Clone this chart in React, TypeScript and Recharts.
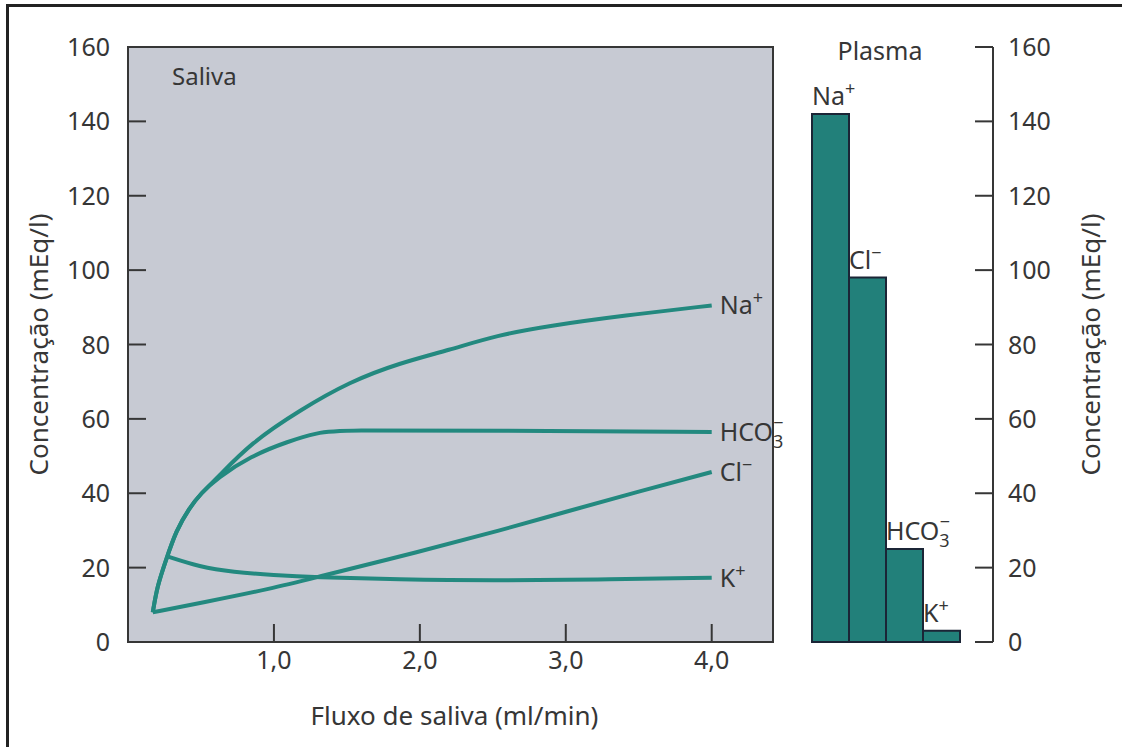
import React from 'react'
import { LineChart, Line, XAxis, YAxis, ReferenceArea, BarChart, Bar } from 'recharts'

const FONT = '"Noto Sans", sans-serif'
const INK = '#363636'
const TEAL = '#23897f'
const BAR_FILL = '#22807a'
const GRAY = '#c7cad3'

// saliva, flow (ml/min) against concentration (mEq/l)
const naFlow = [0.17, 0.2, 0.26, 0.33, 0.42, 0.5, 0.61, 0.84, 1.18, 1.52, 1.86, 2.2, 2.53, 2.88, 3.4, 4.0]
const naConc = [8, 15, 22, 30, 36, 40, 44, 53.5, 62.4, 70, 75, 78.5, 82.5, 85, 87.8, 90.5]
const hco3Flow = [0.17, 0.2, 0.26, 0.33, 0.42, 0.5, 0.61, 0.84, 1.1, 1.3, 1.45, 2.5, 4.0]
const hco3Conc = [8, 15, 22, 30, 36, 40, 44, 50, 54, 56.3, 57, 56.8, 56.5]
const clFlow = [0.17, 0.5, 1.0, 1.27, 2.0, 2.55, 3.0, 3.5, 4.0]
const clConc = [8, 10.5, 14.5, 17.2, 24.3, 30, 35, 40.5, 45.7]
const kFlow = [0.27, 0.49, 0.72, 1.0, 1.27, 1.85, 2.5, 3.2, 4.0]
const kConc = [23, 20.2, 18.8, 18, 17.4, 16.8, 16.5, 16.8, 17.3]

const concTicks = [0, 20, 40, 60, 80, 100, 120, 140, 160]
const flowTicks = [1, 2, 3, 4]

// plasma
const plasmaIons = ['Na', 'Cl', 'HCO3', 'K']
const plasmaConc = [142, 98, 25, 3]

const zip = (xs: number[], ys: number[]) => xs.map((x, i) => ({ flow: x, conc: ys[i] }))
const naData = zip(naFlow, naConc)
const hco3Data = zip(hco3Flow, hco3Conc)
const clData = zip(clFlow, clConc)
const kData = zip(kFlow, kConc)
const plasmaData = plasmaIons.map((ion, i) => ({ ion, conc: plasmaConc[i] }))

const textProps = { fill: INK, fontFamily: FONT, fontSize: 25 }

function IonText({ x, y, ion }: { x: number; y: number; ion: string }) {
   if (ion === 'HCO3') {
      return (
         <text x={x} y={y} {...textProps}>
            HCO
            <tspan fontSize={18} dy={7}>3</tspan>
            <tspan fontSize={18} dx={-10} dy={-19}>−</tspan>
         </text>
      )
   }
   return (
      <text x={x} y={y} {...textProps}>
         {ion}
         <tspan fontSize={18} dy={-10}>{ion === 'Cl' ? '−' : '+'}</tspan>
      </text>
   )
}

const endLabel = (len: number, ion: string) => (p: any) =>
   p.index === len - 1 ? <IonText x={p.x + 8} y={p.y + 9} ion={ion} /> : <g />

const LeftTick = (p: any) => {
   const edge = p.x + 18
   const v = p.payload.value
   return (
      <g>
         {v > 0 && v < 160 && (
            <line x1={edge} x2={edge + 18} y1={p.y} y2={p.y} stroke={INK} strokeWidth={2} />
         )}
         <text x={p.x} y={p.y} dy="0.36em" textAnchor="end" {...textProps}>
            {v}
         </text>
      </g>
   )
}

const RightTick = (p: any) => {
   const edge = p.x - 15
   return (
      <g>
         <line x1={edge - 18} x2={edge} y1={p.y} y2={p.y} stroke={INK} strokeWidth={2} />
         <text x={p.x} y={p.y} dy="0.36em" textAnchor="start" {...textProps}>
            {p.payload.value}
         </text>
      </g>
   )
}

const FlowTick = (p: any) => (
   <g>
      <line x1={p.x} x2={p.x} y1={p.y} y2={p.y - 18} stroke={INK} strokeWidth={2} />
      <text x={p.x} y={p.y + 27} textAnchor="middle" {...textProps}>
         {Number(p.payload.value).toFixed(1).replace('.', ',')}
      </text>
   </g>
)

function VTitle({ vb, dx, text }: { vb: any; dx: number; text: string }) {
   const cx = vb.x + dx
   const cy = vb.y + vb.height / 2
   return (
      <text
         x={cx}
         y={cy}
         transform={`rotate(-90 ${cx} ${cy})`}
         textAnchor="middle"
         {...textProps}
         fontSize={26}
      >
         {text}
      </text>
   )
}

export default function App() {
   return (
      <div
         style={{
            position: 'absolute',
            left: 0,
            top: 0,
            width: 1122,
            height: 747,
            background: '#fff',
            overflow: 'hidden',
         }}
      >
         <div
            style={{
               position: 'absolute',
               left: 6,
               top: 4,
               width: 1130,
               height: 760,
               borderTop: '3px solid #222',
               borderLeft: '3px solid #222',
            }}
         />
         <div style={{ position: 'absolute', left: 0, top: 0 }}>
            <LineChart width={800} height={747} margin={{ top: 47, right: 27, bottom: 0, left: 0 }}>
               <XAxis
                  type="number"
                  dataKey="flow"
                  domain={[0, 4.42]}
                  ticks={flowTicks}
                  allowDataOverflow
                  height={105}
                  tickSize={0}
                  tickMargin={0}
                  tick={FlowTick}
                  axisLine={{ stroke: INK, strokeWidth: 2 }}
                  label={(p: any) => (
                     <text
                        x={p.viewBox.x + p.viewBox.width / 2 + 4}
                        y={p.viewBox.y + 83}
                        textAnchor="middle"
                        {...textProps}
                        fontSize={26}
                     >
                        Fluxo de saliva (ml/min)
                     </text>
                  )}
               />
               <YAxis
                  type="number"
                  domain={[0, 160]}
                  ticks={concTicks}
                  width={128}
                  tickSize={0}
                  tickMargin={18}
                  tick={LeftTick}
                  axisLine={{ stroke: INK, strokeWidth: 2 }}
                  label={(p: any) => <VTitle vb={p.viewBox} dx={48} text="Concentração (mEq/l)" />}
               />
               <ReferenceArea
                  x1={0}
                  x2={4.42}
                  y1={0}
                  y2={160}
                  fill={GRAY}
                  fillOpacity={1}
                  stroke={INK}
                  strokeWidth={2}
                  label={(p: any) => (
                     <text x={p.viewBox.x + 44} y={p.viewBox.y + 38} {...textProps} fontSize={24}>
                        Saliva
                     </text>
                  )}
               />
               <Line data={naData} dataKey="conc" type="basis" stroke={TEAL} strokeWidth={4} dot={false} isAnimationActive={false} label={endLabel(naData.length, 'Na')} />
               <Line data={hco3Data} dataKey="conc" type="basis" stroke={TEAL} strokeWidth={4} dot={false} isAnimationActive={false} label={endLabel(hco3Data.length, 'HCO3')} />
               <Line data={clData} dataKey="conc" type="basis" stroke={TEAL} strokeWidth={4} dot={false} isAnimationActive={false} label={endLabel(clData.length, 'Cl')} />
               <Line data={kData} dataKey="conc" type="basis" stroke={TEAL} strokeWidth={4} dot={false} isAnimationActive={false} label={endLabel(kData.length, 'K')} />
            </LineChart>
         </div>
         <div style={{ position: 'absolute', left: 780, top: 0 }}>
            <BarChart
               width={342}
               height={747}
               data={plasmaData}
               barCategoryGap={0}
               margin={{ top: 47, right: 0, bottom: 105, left: 32 }}
            >
               <XAxis dataKey="ion" hide padding={{ left: 0, right: 33 }} />
               <YAxis
                  orientation="right"
                  type="number"
                  domain={[0, 160]}
                  ticks={concTicks}
                  width={129}
                  tickSize={0}
                  tickMargin={15}
                  tick={RightTick}
                  axisLine={{ stroke: INK, strokeWidth: 2 }}
                  label={(p: any) => <VTitle vb={p.viewBox} dx={107} text="Concentração (mEq/l)" />}
               />
               <Bar
                  dataKey="conc"
                  fill={BAR_FILL}
                  stroke="#1b2536"
                  strokeWidth={2}
                  isAnimationActive={false}
                  label={(p: any) => <IonText x={p.x} y={p.y - 9} ion={plasmaIons[p.index]} />}
               />
               <text x={100} y={60} textAnchor="middle" {...textProps}>
                  Plasma
               </text>
            </BarChart>
         </div>
      </div>
   )
}
